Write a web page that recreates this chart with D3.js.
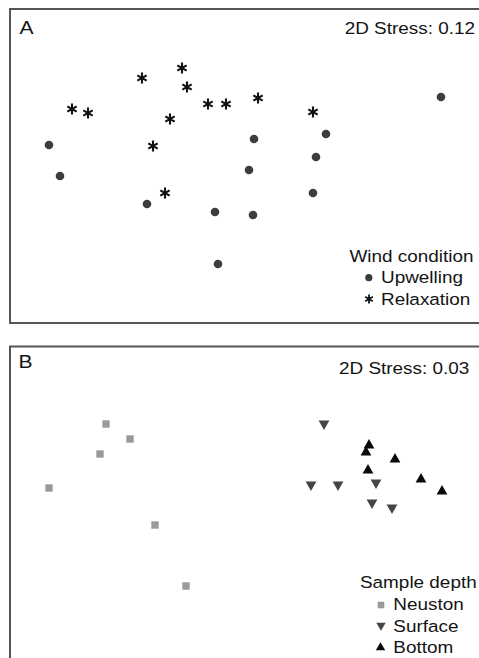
<!DOCTYPE html>
<html>
<head>
<meta charset="utf-8">
<script src="https://cdn.jsdelivr.net/npm/d3@7"></script>
<style>
  html, body { margin: 0; padding: 0; background: #fff; }
  svg { display: block; }
  text { font-family: "Liberation Sans", Arial, Helvetica, sans-serif; fill: #141414; }
</style>
</head>
<body>
<script>
// ---------- Panel A data (NMDS coordinates) ----------
const upwellingX  = [-2.01, -1.90, -1.03, -0.35, 0.03, -0.32, 0.04, -0.01, 0.76, 0.66, 0.63, 1.91];
const upwellingY  = [ 0.21, -0.10, -0.38, -0.46, -0.49, -0.98, 0.27, -0.04, 0.32, 0.09, -0.27, 0.69];
const relaxationX = [-1.78, -1.62, -1.08, -0.68, -0.63, -0.80, -0.97, -0.85, -0.42, -0.24, 0.08, 0.63];
const relaxationY = [ 0.57,  0.53,  0.88,  0.98,  0.79,  0.47,  0.20, -0.27,  0.62,  0.62, 0.68, 0.54];

// ---------- Panel B data (NMDS coordinates) ----------
const neustonX = [-1.44, -1.20, -1.50, -2.01, -0.95, -0.64];
const neustonY = [ 0.76,  0.61,  0.46,  0.12, -0.25, -0.86];
const surfaceX = [ 0.74,  0.61,  0.88,  1.26,  1.22,  1.42];
const surfaceY = [ 0.75,  0.14,  0.14,  0.16, -0.04, -0.09];
const bottomX  = [ 1.19,  1.16,  1.45,  1.18,  1.71,  1.92];
const bottomY  = [ 0.56,  0.49,  0.42,  0.31,  0.22,  0.10];

const panelLabels = ["A", "B"];
const stressLabels = ["2D Stress: 0.12", "2D Stress: 0.03"];
const legendTitles = ["Wind condition", "Sample depth"];
const windLabels = ["Upwelling", "Relaxation"];
const depthLabels = ["Neuston", "Surface", "Bottom"];

const W = 479, H = 658;
const XS = 1.14;          // horizontal text stretch
const FS = 16.6;

const svg = d3.select("body").append("svg").attr("width", W).attr("height", H);

function label(x, y, str, anchor, size) {
  return svg.append("text")
    .attr("transform", `translate(${x},${y}) scale(${XS},1)`)
    .attr("text-anchor", anchor || "start")
    .attr("font-size", size || FS)
    .text(str);
}

// shared x-scale
const x = d3.scaleLinear().domain([-2.4, 2.4]).range([10, 490]);
const yA = d3.scaleLinear().domain([1.57, -1.57]).range([9, 323]);
const yB = d3.scaleLinear().domain([1.535, -1.7]).range([346.5, 670]);

// ---------- frames ----------
svg.append("rect").attr("x", 10).attr("y", yA.range()[0]).attr("width", 490)
  .attr("height", yA.range()[1] - yA.range()[0])
  .attr("fill", "none").attr("stroke", "#555").attr("stroke-width", 2);
svg.append("rect").attr("x", 10).attr("y", yB.range()[0]).attr("width", 490)
  .attr("height", yB.range()[1] - yB.range()[0])
  .attr("fill", "none").attr("stroke", "#555").attr("stroke-width", 2);

// ---------- marker builders ----------
function asteriskPath(r) {
  let d = "";
  [90, 30, 150].forEach(a => {
    const rad = a * Math.PI / 180, dx = r * Math.cos(rad), dy = r * Math.sin(rad);
    d += `M${-dx},${-dy}L${dx},${dy}`;
  });
  return d;
}
function triDown(s) { return `M${-s * 0.55},${-s * 0.45}L${s * 0.55},${-s * 0.45}L0,${s * 0.5}Z`; }
function triUp(s)   { return `M${-s * 0.55},${s * 0.45}L${s * 0.55},${s * 0.45}L0,${-s * 0.5}Z`; }

const circleColor = "#3d3d3d";
const squareColor = "#9a9a9a";
const surfColor = "#454545";
const botColor = "#0a0a0a";

// ---------- Panel A ----------
const upData = upwellingX.map((v, i) => ({ x: v, y: upwellingY[i] }));
const rxData = relaxationX.map((v, i) => ({ x: v, y: relaxationY[i] }));

svg.append("g").selectAll("circle").data(upData).join("circle")
  .attr("cx", d => x(d.x)).attr("cy", d => yA(d.y)).attr("r", 4.3)
  .attr("fill", circleColor);

svg.append("g").selectAll("path").data(rxData).join("path")
  .attr("transform", d => `translate(${x(d.x)},${yA(d.y)})`)
  .attr("d", asteriskPath(5.4))
  .attr("stroke", "#111").attr("stroke-width", 2.1).attr("fill", "none");

label(19.5, 34, panelLabels[0], "start", 18.5);
label(475, 34.3, stressLabels[0], "end");

// legend A
label(349.5, 262, legendTitles[0]);
svg.append("circle").attr("cx", 368.8).attr("cy", 277.7).attr("r", 3.6).attr("fill", circleColor);
label(381, 283.3, windLabels[0]);
svg.append("path").attr("transform", "translate(369,299)").attr("d", asteriskPath(4.4))
  .attr("stroke", "#111").attr("stroke-width", 1.8).attr("fill", "none");
label(381, 305, windLabels[1]);

// ---------- Panel B ----------
const neData = neustonX.map((v, i) => ({ x: v, y: neustonY[i] }));
const suData = surfaceX.map((v, i) => ({ x: v, y: surfaceY[i] }));
const boData = bottomX.map((v, i) => ({ x: v, y: bottomY[i] }));

svg.append("g").selectAll("rect").data(neData).join("rect")
  .attr("x", d => x(d.x) - 3.7).attr("y", d => yB(d.y) - 3.7)
  .attr("width", 7.4).attr("height", 7.4).attr("fill", squareColor);

svg.append("g").selectAll("path").data(suData).join("path")
  .attr("transform", d => `translate(${x(d.x)},${yB(d.y)})`)
  .attr("d", triDown(9.8)).attr("fill", surfColor);

svg.append("g").selectAll("path").data(boData).join("path")
  .attr("transform", d => `translate(${x(d.x)},${yB(d.y)})`)
  .attr("d", triUp(9.8)).attr("fill", botColor);

label(18.5, 367.7, panelLabels[1], "start", 18.5);
label(469.3, 374, stressLabels[1], "end");

// legend B
label(360, 588.3, legendTitles[1]);
svg.append("rect").attr("x", 381 - 3.3).attr("y", 605 - 3.3).attr("width", 6.6).attr("height", 6.6).attr("fill", squareColor);
label(393.3, 610, depthLabels[0]);
svg.append("path").attr("transform", "translate(381,626.5)").attr("d", triDown(8.6)).attr("fill", surfColor);
label(393.3, 631.7, depthLabels[1]);
svg.append("path").attr("transform", "translate(380.5,646.5)").attr("d", triUp(8.6)).attr("fill", botColor);
label(393.3, 653.3, depthLabels[2]);
</script>
</body>
</html>
